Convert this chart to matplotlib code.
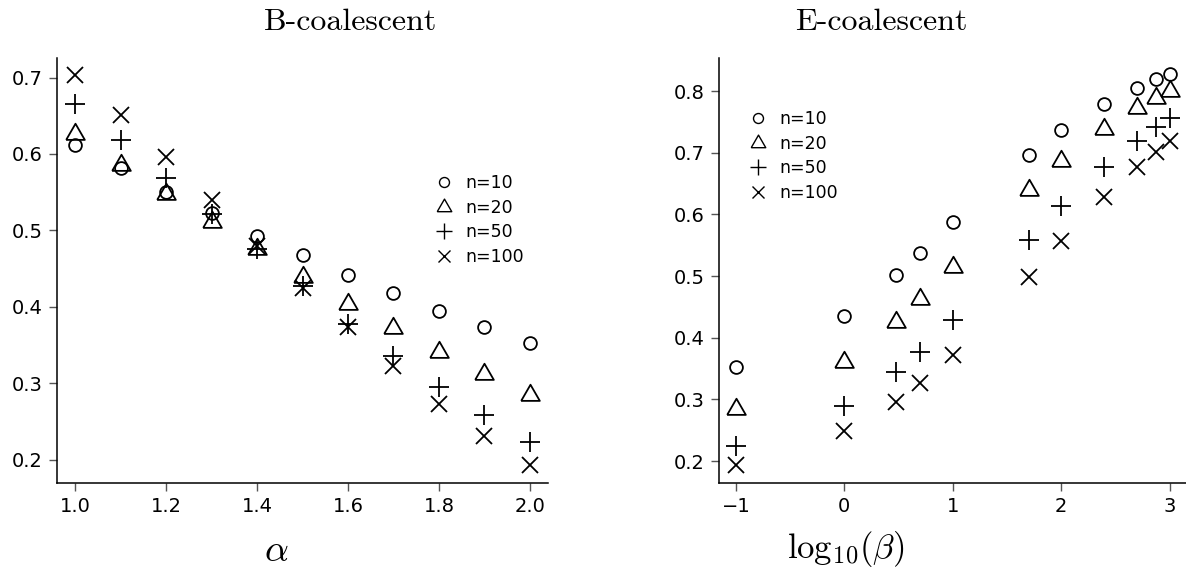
import numpy as np
import matplotlib
matplotlib.use("Agg")
import matplotlib.pyplot as plt

plt.rcParams['font.family'] = ['DejaVu Sans']
plt.rcParams['mathtext.fontset'] = 'cm'

# B-coalescent panel
alpha = [1.0, 1.1, 1.2, 1.3, 1.4, 1.5, 1.6, 1.7, 1.8, 1.9, 2.0]
b_n10 = [0.612, 0.581, 0.550, 0.523, 0.493, 0.468, 0.442, 0.418, 0.395, 0.374, 0.353]
b_n20 = [0.626, 0.586, 0.547, 0.511, 0.475, 0.439, 0.404, 0.372, 0.341, 0.312, 0.284]
b_n50 = [0.665, 0.618, 0.569, 0.521, 0.475, 0.427, 0.378, 0.336, 0.295, 0.258, 0.223]
b_n100 = [0.704, 0.651, 0.596, 0.540, 0.480, 0.424, 0.374, 0.323, 0.273, 0.231, 0.193]

# E-coalescent panel
beta = [0.1, 1, 3, 5, 10, 50, 100, 250, 500, 750, 1000]
e_n10 = [0.353, 0.435, 0.501, 0.537, 0.588, 0.697, 0.736, 0.779, 0.805, 0.819, 0.827]
e_n20 = [0.284, 0.361, 0.425, 0.462, 0.515, 0.639, 0.686, 0.739, 0.772, 0.788, 0.800]
e_n50 = [0.224, 0.289, 0.344, 0.377, 0.429, 0.559, 0.613, 0.677, 0.719, 0.742, 0.756]
e_n100 = [0.193, 0.248, 0.296, 0.326, 0.372, 0.499, 0.557, 0.628, 0.676, 0.701, 0.719]

labels = ["n=10", "n=20", "n=50", "n=100"]

W, H = 1186, 581
fig = plt.figure(figsize=(W / 100, H / 100), dpi=100)

# equilateral-ish triangle like R's pch=2
tri = [(-1, -0.577), (1, -0.577), (0, 1.155), (-1, -0.577)]
styles = [
    dict(marker='o', ms=9.2),
    dict(marker=tri, ms=15.5),
    dict(marker='+', ms=15),
    dict(marker='x', ms=11.5),
]


def px_ax(l, r, t, b):
    return [l / W, 1 - b / H, (r - l) / W, (b - t) / H]


def style_axes(ax):
    for s in ['top', 'right']:
        ax.spines[s].set_visible(False)
    for s in ['left', 'bottom']:
        ax.spines[s].set_linewidth(1.1)
    ax.tick_params(direction='out', length=6, width=1.0, color='#555555',
                   labelsize=14, pad=4)


def draw_panel(ax, x, series, leg_xy):
    for ys, st, lab in zip(series, styles, labels):
        ax.plot(x, ys, linestyle='none', mfc='none', mec='black', mew=1.3,
                color='black', label=lab, **st)
    leg = ax.legend(loc='upper left', bbox_to_anchor=(leg_xy[0] / W, 1 - leg_xy[1] / H),
                    bbox_transform=fig.transFigure, frameon=False, fontsize=12.5,
                    markerscale=0.78, handlelength=1.0, handletextpad=0.75,
                    labelspacing=0.38, borderpad=0, borderaxespad=0)
    for h in leg.legend_handles:
        h.set_markeredgewidth(1.0)


ax1 = fig.add_axes(px_ax(57, 548, 58, 483))
draw_panel(ax1, alpha, [b_n10, b_n20, b_n50, b_n100], (435, 174))
ax1.set_xlim(0.96, 2.04)
ax1.set_ylim(0.1694, 0.7256)
ax1.set_xticks([1.0, 1.2, 1.4, 1.6, 1.8, 2.0])
ax1.set_xticklabels(["1.0", "1.2", "1.4", "1.6", "1.8", "2.0"])
ax1.set_yticks([0.2, 0.3, 0.4, 0.5, 0.6, 0.7])
style_axes(ax1)

ax2 = fig.add_axes(px_ax(718.5, 1187, 58, 483))
draw_panel(ax2, np.log10(beta), [e_n10, e_n20, e_n50, e_n100], (749, 110))
ax2.set_xlim(-1.16, 3.16)
ax2.set_ylim(0.1645, 0.8535)
ax2.set_xticks([-1, 0, 1, 2, 3])
ax2.set_xticklabels(["\u22121", "0", "1", "2", "3"])
ax2.set_yticks([0.2, 0.3, 0.4, 0.5, 0.6, 0.7, 0.8])
style_axes(ax2)

fig.text(351 / W, 1 - 22 / H, "B-coalescent", family='cmr10', fontsize=23,
         ha='center', va='center')
fig.text(881 / W, 1 - 22 / H, "E-coalescent", family='cmr10', fontsize=23,
         ha='center', va='center')
fig.text(276 / W, 1 - 551 / H, r"$\alpha$", fontsize=27, ha='center', va='center')
fig.text(846 / W, 1 - 549 / H, r"$\mathrm{log}_{10}(\beta)$", fontsize=25,
         ha='center', va='center')

fig.savefig("out.png", dpi=100)
